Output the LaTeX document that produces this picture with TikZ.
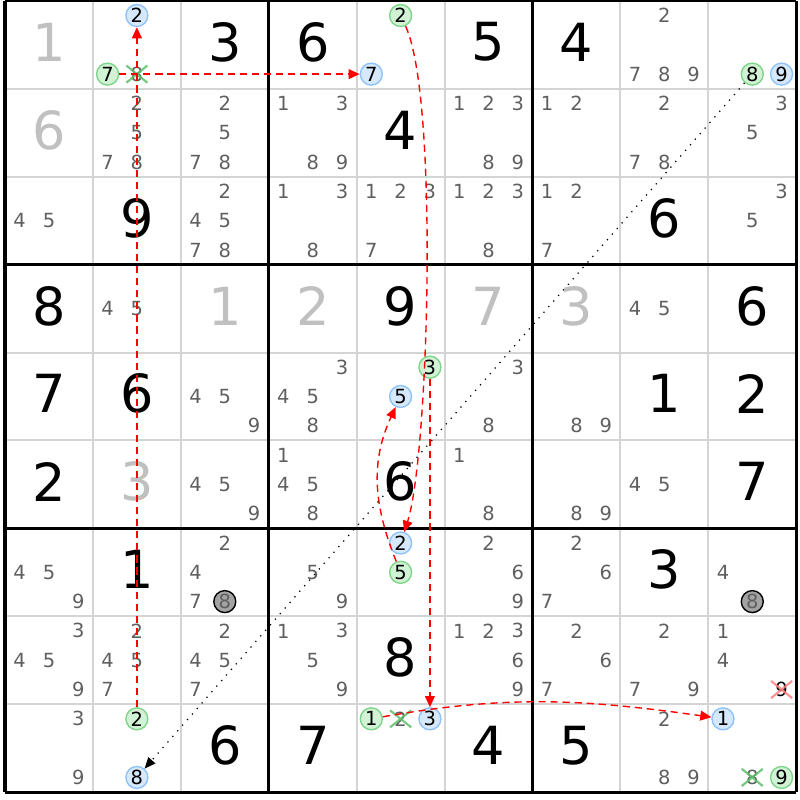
\documentclass[tikz,border=0pt]{standalone}
\usepackage{fontspec}
\setmainfont{DejaVu Sans}
\usetikzlibrary{arrows.meta}
\definecolor{candgrey}{HTML}{5F5F5F}
\definecolor{solvedgrey}{HTML}{C0C0C0}
\definecolor{gridgrey}{HTML}{D4D4D4}
\definecolor{linkblue}{HTML}{8FC3F7}
\definecolor{linkbluefill}{HTML}{D6E8FB}
\definecolor{linkgreen}{HTML}{7ED58A}
\definecolor{linkgreenfill}{HTML}{D2F2D5}
\definecolor{crossgreen}{HTML}{5DBE6A}
\definecolor{crossred}{HTML}{FF8080}
\definecolor{elimgrey}{HTML}{A3A3A3}
\tikzset{
  given/.style={
    inner sep=0pt,
    font=\fontsize{17}{17}\selectfont
  },
  solved/.style={given, text=solvedgrey},
  cand/.style={
    inner sep=0pt,
    text=candgrey,
    font=\fontsize{6.3}{6.3}\selectfont
  },
  elimcand/.style={cand, text=black},
  bluecand/.style={
    cand,
    circle,
    draw=linkblue,
    fill=linkbluefill,
    text=black,
    minimum size=0.25cm,
    line width=0.45pt
  },
  greencand/.style={bluecand, draw=linkgreen, fill=linkgreenfill},
  greycand/.style={bluecand, draw=black, fill=elimgrey, text=candgrey},
  link/.style={
    red,
    dash pattern=on 2.3pt off 1.6pt,
    line width=0.45pt,
    -{Triangle[length=3.6pt,width=3.2pt]}
  },
  chain/.style={
    black,
    dotted,
    line width=0.4pt,
    -{Triangle[length=3.6pt,width=3pt]}
  },
  cross/.style={line width=0.7pt, opacity=0.85}
}
\begin{document}
\begin{tikzpicture}
    \useasboundingbox (-0.057,-0.09) rectangle (9.043,9.01);
    \draw[gridgrey, line width=0.65pt] (0,0) grid (9,9);
    \draw[line width=1pt] (0,0) grid[step=3] (9,9);

    \foreach \i/\j/\n in {1/3/3, 1/4/6, 1/6/5, 1/7/4, 2/5/4, 3/2/9, 3/8/6,
      4/1/8, 4/5/9, 4/9/6, 5/1/7, 5/2/6, 5/8/1, 5/9/2, 6/1/2, 6/5/6, 6/9/7,
      7/2/1, 7/8/3, 8/5/8, 9/3/6, 9/4/7, 9/6/4, 9/7/5}
      \node[given] (g-\i-\j) at (\j-0.5,9.53-\i) {\n};
    \foreach \i/\j/\n in {1/1/1, 2/1/6, 4/3/1, 4/4/2, 4/6/7, 4/7/3, 6/2/3}
      \node[solved] (g-\i-\j) at (\j-0.5,9.53-\i) {\n};

    \foreach \i/\j/\ds in {1/8/{2,7,8,9},
      2/2/{2,5,7,8}, 2/3/{2,5,7,8}, 2/4/{1,3,8,9}, 2/6/{1,2,3,8,9}, 2/7/{1,2}, 2/8/{2,7,8}, 2/9/{3,5},
      3/1/{4,5}, 3/3/{2,4,5,7,8}, 3/4/{1,3,8}, 3/5/{1,2,3,7}, 3/6/{1,2,3,8}, 3/7/{1,2,7}, 3/9/{3,5},
      4/2/{4,5}, 4/8/{4,5},
      5/3/{4,5,9}, 5/4/{3,4,5,8}, 5/6/{3,8}, 5/7/{8,9},
      6/3/{4,5,9}, 6/4/{1,4,5,8}, 6/6/{1,8}, 6/7/{8,9}, 6/8/{4,5},
      7/1/{4,5,9}, 7/3/{2,4,7}, 7/4/{5,9}, 7/6/{2,6,9}, 7/7/{2,6,7}, 7/9/{4},
      8/1/{3,4,5,9}, 8/2/{2,4,5,7}, 8/3/{2,4,5,7}, 8/4/{1,3,5,9}, 8/6/{1,2,3,6,9}, 8/7/{2,6,7}, 8/8/{2,7,9}, 8/9/{1,4},
      9/1/{3,9}, 9/8/{2,8,9}}
      \foreach \d in \ds
        \node[cand] (c-\i-\j-\d) at ({\j-5/6+mod(\d-1,3)/3},{10-\i-1/6-floor((\d-1)/3)/3}) {\d};

    \foreach \i/\j/\d/\s in {1/2/2/bluecand, 1/2/7/greencand, 1/2/8/cand,
      1/5/2/greencand, 1/5/7/bluecand, 1/9/8/greencand, 1/9/9/bluecand,
      5/5/3/greencand, 5/5/5/bluecand, 7/5/2/bluecand, 7/5/5/greencand,
      7/3/8/greycand, 7/9/8/greycand, 8/9/9/elimcand,
      9/2/2/greencand, 9/2/8/bluecand, 9/5/1/greencand, 9/5/2/cand, 9/5/3/bluecand,
      9/9/1/bluecand, 9/9/8/cand, 9/9/9/greencand}
      \node[\s] (c-\i-\j-\d) at ({\j-5/6+mod(\d-1,3)/3},{10-\i-1/6-floor((\d-1)/3)/3}) {\d};

    \foreach \n/\c in {c-1-2-8/crossgreen, c-9-5-2/crossgreen, c-9-9-8/crossgreen, c-8-9-9/crossred}
      \draw[cross, \c] ([shift={(-1.2pt,0.2pt)}]\n.north west) -- ([shift={(1.2pt,-0.2pt)}]\n.south east)
        ([shift={(1.2pt,0.2pt)}]\n.north east) -- ([shift={(-1.2pt,-0.2pt)}]\n.south west);

    \draw[link] (c-9-2-2) -- (c-1-2-2);
    \draw[link] (c-1-2-7) -- (c-1-5-7);
    \draw[link] (c-1-5-2) to[out=-65, in=72, looseness=0.4] (c-7-5-2);
    \draw[link] (c-5-5-3) -- (c-9-5-3);
    \draw[link] (c-7-5-5) to[out=112, in=-115] (c-5-5-5);
    \draw[link] (c-9-5-1) to[out=10, in=172] (c-9-9-1);
    \draw[chain] (c-1-9-8) -- (c-9-2-8);
\end{tikzpicture}
\end{document}
